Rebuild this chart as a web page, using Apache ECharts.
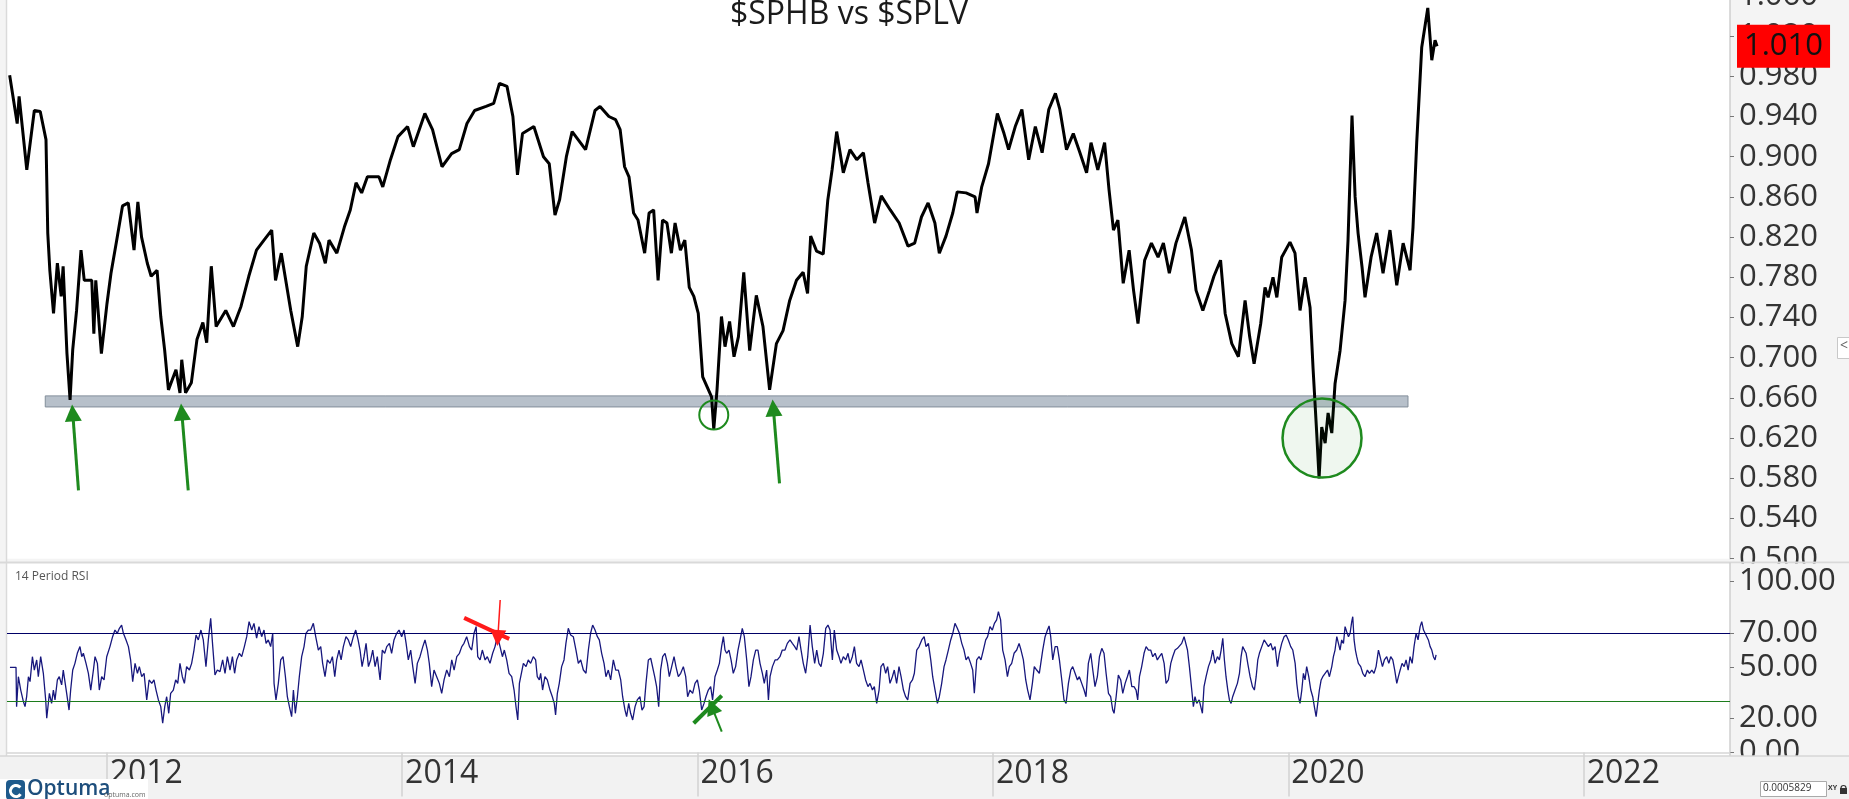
<!DOCTYPE html>
<html>
<head>
<meta charset="utf-8">
<title>$SPHB vs $SPLV</title>
<script src="https://cdn.jsdelivr.net/npm/echarts@6/dist/echarts.min.js"></script>
<style>
  html, body { margin: 0; padding: 0; background: #f4f4f4; }
  #chart { width: 1849px; height: 799px; }
</style>
</head>
<body>
<div id="chart"></div>
<script>
// $SPHB / $SPLV ratio, x = decimal year
var priceT = [2011.343,2011.394,2011.407,2011.459,2011.510,2011.550,2011.589,2011.601,2011.615,2011.640,2011.666,2011.692,2011.705,2011.731,2011.752,2011.770,2011.796,2011.826,2011.848,2011.899,2011.913,2011.926,2011.964,2012.002,2012.029,2012.068,2012.107,2012.146,2012.185,2012.211,2012.236,2012.275,2012.301,2012.341,2012.366,2012.392,2012.418,2012.469,2012.496,2012.508,2012.534,2012.573,2012.611,2012.651,2012.677,2012.708,2012.741,2012.806,2012.858,2012.909,2012.962,2013.014,2013.065,2013.117,2013.143,2013.182,2013.246,2013.293,2013.324,2013.351,2013.402,2013.441,2013.480,2013.505,2013.558,2013.609,2013.649,2013.688,2013.726,2013.765,2013.843,2013.869,2013.921,2013.972,2014.037,2014.076,2014.154,2014.206,2014.270,2014.335,2014.387,2014.439,2014.491,2014.568,2014.620,2014.659,2014.710,2014.750,2014.781,2014.815,2014.892,2014.957,2014.996,2015.035,2015.066,2015.112,2015.151,2015.242,2015.306,2015.340,2015.400,2015.445,2015.476,2015.506,2015.536,2015.567,2015.597,2015.642,2015.672,2015.703,2015.733,2015.763,2015.793,2015.823,2015.848,2015.884,2015.914,2015.944,2015.975,2016.005,2016.035,2016.065,2016.095,2016.110,2016.132,2016.162,2016.186,2016.217,2016.247,2016.277,2016.313,2016.353,2016.398,2016.443,2016.488,2016.534,2016.579,2016.624,2016.670,2016.715,2016.745,2016.766,2016.806,2016.851,2016.882,2016.911,2016.942,2016.987,2017.032,2017.078,2017.123,2017.154,2017.199,2017.244,2017.305,2017.365,2017.425,2017.470,2017.516,2017.561,2017.607,2017.637,2017.682,2017.728,2017.758,2017.818,2017.879,2017.892,2017.924,2017.970,2018.030,2018.075,2018.106,2018.151,2018.196,2018.242,2018.287,2018.333,2018.378,2018.423,2018.453,2018.498,2018.544,2018.589,2018.634,2018.664,2018.710,2018.756,2018.786,2018.816,2018.846,2018.882,2018.922,2018.952,2018.982,2019.027,2019.073,2019.118,2019.154,2019.194,2019.239,2019.299,2019.344,2019.375,2019.421,2019.466,2019.496,2019.541,2019.572,2019.617,2019.662,2019.707,2019.738,2019.768,2019.813,2019.842,2019.863,2019.896,2019.922,2019.955,2020.011,2020.045,2020.079,2020.113,2020.147,2020.167,2020.192,2020.208,2020.226,2020.249,2020.269,2020.294,2020.316,2020.350,2020.384,2020.404,2020.431,2020.452,2020.472,2020.499,2020.519,2020.560,2020.598,2020.641,2020.688,2020.734,2020.777,2020.824,2020.844,2020.869,2020.903,2020.944,2020.971,2020.993,2021.007];
var priceV = [0.981,0.933,0.960,0.887,0.946,0.945,0.917,0.824,0.787,0.744,0.794,0.761,0.791,0.704,0.658,0.708,0.747,0.807,0.777,0.777,0.724,0.777,0.704,0.754,0.784,0.817,0.851,0.854,0.807,0.855,0.820,0.794,0.781,0.787,0.741,0.708,0.668,0.688,0.665,0.698,0.665,0.675,0.718,0.735,0.715,0.791,0.731,0.747,0.731,0.751,0.781,0.807,0.817,0.827,0.777,0.804,0.747,0.711,0.741,0.791,0.824,0.814,0.794,0.817,0.804,0.830,0.847,0.874,0.864,0.880,0.880,0.870,0.897,0.920,0.930,0.910,0.943,0.927,0.890,0.903,0.907,0.933,0.946,0.950,0.953,0.973,0.970,0.940,0.882,0.923,0.930,0.900,0.893,0.842,0.857,0.900,0.925,0.907,0.946,0.950,0.940,0.937,0.927,0.890,0.880,0.844,0.837,0.804,0.844,0.847,0.777,0.837,0.834,0.804,0.834,0.807,0.817,0.770,0.761,0.744,0.681,0.671,0.661,0.629,0.668,0.741,0.711,0.736,0.701,0.721,0.785,0.707,0.762,0.731,0.668,0.714,0.727,0.757,0.777,0.785,0.764,0.821,0.806,0.803,0.857,0.887,0.925,0.884,0.907,0.897,0.904,0.874,0.834,0.861,0.847,0.834,0.811,0.814,0.840,0.854,0.834,0.804,0.821,0.844,0.865,0.864,0.860,0.844,0.870,0.893,0.943,0.923,0.907,0.930,0.947,0.897,0.930,0.904,0.947,0.963,0.947,0.907,0.923,0.904,0.884,0.914,0.887,0.914,0.867,0.827,0.837,0.774,0.807,0.767,0.734,0.797,0.814,0.800,0.814,0.784,0.814,0.840,0.807,0.767,0.747,0.767,0.781,0.797,0.744,0.714,0.701,0.757,0.721,0.694,0.734,0.770,0.760,0.780,0.760,0.800,0.815,0.804,0.747,0.780,0.750,0.690,0.625,0.580,0.631,0.615,0.645,0.625,0.674,0.707,0.757,0.817,0.941,0.860,0.824,0.790,0.760,0.800,0.824,0.784,0.827,0.772,0.814,0.787,0.830,0.914,1.009,1.048,0.996,1.016,1.010];

// 14 period RSI
var rsiT = [2011.345,2011.386,2011.390,2011.402,2011.418,2011.436,2011.447,2011.458,2011.470,2011.481,2011.497,2011.510,2011.526,2011.537,2011.553,2011.571,2011.587,2011.594,2011.612,2011.627,2011.639,2011.650,2011.666,2011.679,2011.695,2011.706,2011.729,2011.745,2011.756,2011.770,2011.785,2011.801,2011.819,2011.831,2011.842,2011.860,2011.876,2011.892,2011.910,2011.921,2011.937,2011.950,2011.966,2011.982,2012.000,2012.022,2012.040,2012.056,2012.072,2012.086,2012.101,2012.113,2012.131,2012.147,2012.162,2012.176,2012.192,2012.208,2012.221,2012.237,2012.253,2012.271,2012.287,2012.305,2012.320,2012.334,2012.350,2012.366,2012.379,2012.393,2012.406,2012.420,2012.433,2012.451,2012.467,2012.481,2012.496,2012.512,2012.526,2012.541,2012.560,2012.575,2012.591,2012.605,2012.620,2012.638,2012.654,2012.672,2012.688,2012.704,2012.718,2012.733,2012.749,2012.767,2012.785,2012.801,2012.817,2012.835,2012.851,2012.866,2012.880,2012.898,2012.914,2012.932,2012.948,2012.964,2012.982,2012.997,2013.015,2013.031,2013.049,2013.065,2013.079,2013.094,2013.110,2013.124,2013.133,2013.146,2013.162,2013.178,2013.194,2013.210,2013.223,2013.237,2013.252,2013.264,2013.277,2013.291,2013.304,2013.320,2013.336,2013.349,2013.365,2013.381,2013.399,2013.415,2013.433,2013.449,2013.462,2013.478,2013.494,2013.512,2013.528,2013.544,2013.557,2013.573,2013.587,2013.602,2013.620,2013.636,2013.652,2013.670,2013.686,2013.702,2013.715,2013.729,2013.742,2013.756,2013.772,2013.787,2013.801,2013.817,2013.832,2013.851,2013.866,2013.882,2013.896,2013.914,2013.929,2013.945,2013.963,2013.979,2013.997,2014.013,2014.027,2014.042,2014.058,2014.072,2014.088,2014.103,2014.121,2014.140,2014.155,2014.171,2014.184,2014.200,2014.216,2014.234,2014.252,2014.268,2014.284,2014.302,2014.320,2014.336,2014.352,2014.370,2014.388,2014.404,2014.419,2014.437,2014.456,2014.471,2014.487,2014.501,2014.512,2014.528,2014.543,2014.562,2014.577,2014.595,2014.613,2014.629,2014.645,2014.663,2014.679,2014.692,2014.708,2014.724,2014.742,2014.758,2014.771,2014.783,2014.794,
  2014.821,2014.839,2014.854,2014.870,2014.888,2014.904,2014.915,2014.929,2014.938,2014.951,2014.967,2014.983,2015.001,2015.017,2015.030,2015.039,2015.051,2015.064,2015.080,2015.096,2015.109,2015.125,2015.141,2015.159,2015.177,2015.193,2015.209,2015.227,2015.245,2015.261,2015.276,2015.290,2015.306,2015.322,2015.335,2015.351,2015.367,2015.380,2015.396,2015.412,2015.430,2015.446,2015.464,2015.480,2015.493,2015.509,2015.520,2015.534,2015.547,2015.561,2015.577,2015.592,2015.610,2015.624,2015.638,2015.651,2015.667,2015.683,2015.696,2015.710,2015.723,2015.737,2015.750,2015.764,2015.780,2015.796,2015.809,2015.825,2015.841,2015.854,2015.870,2015.886,2015.904,2015.920,2015.933,2015.949,2015.967,2015.983,2015.999,2016.012,2016.028,2016.044,2016.057,2016.073,2016.089,2016.102,2016.118,2016.134,2016.148,2016.163,2016.175,2016.186,2016.197,2016.213,2016.227,2016.242,2016.258,2016.274,2016.288,2016.303,2016.317,2016.333,2016.348,2016.362,2016.378,2016.394,2016.409,2016.423,2016.439,2016.452,2016.468,2016.480,2016.491,2016.507,2016.525,2016.540,2016.558,2016.574,2016.592,2016.608,2016.626,2016.642,2016.658,2016.671,2016.687,2016.701,2016.716,2016.732,2016.746,2016.762,2016.777,2016.793,2016.807,2016.822,2016.836,2016.852,2016.868,2016.883,2016.897,2016.913,2016.926,2016.942,2016.958,2016.971,2016.987,2017.003,2017.019,2017.032,2017.048,2017.062,2017.077,2017.093,2017.107,2017.123,2017.138,2017.154,2017.168,2017.184,2017.197,2017.213,2017.229,2017.242,2017.258,2017.274,2017.287,2017.303,2017.319,2017.332,2017.348,2017.364,2017.378,2017.394,2017.409,2017.423,2017.439,2017.455,2017.468,2017.484,2017.500,2017.518,2017.534,2017.547,2017.563,2017.579,2017.592,2017.608,2017.624,2017.637,2017.653,2017.669,2017.682,2017.698,2017.714,2017.728,2017.743,2017.759,2017.773,2017.789,2017.804,2017.818,2017.833,2017.849,2017.863,2017.874,2017.890,2017.906,2017.919,2017.935,2017.951,2017.964,2017.980,2017.996,2018.010,2018.025,2018.037,2018.052,2018.066,2018.082,2018.098,2018.111,2018.127,2018.143,2018.161,2018.177,2018.190,2018.206,2018.222,2018.235,2018.251,2018.267,2018.280,2018.296,2018.314,
  2018.337,2018.353,2018.369,2018.380,2018.391,2018.405,2018.421,2018.436,2018.450,2018.466,2018.481,2018.495,2018.511,2018.527,2018.540,2018.556,2018.572,2018.585,2018.601,2018.617,2018.630,2018.646,2018.662,2018.676,2018.691,2018.707,2018.721,2018.737,2018.752,2018.766,2018.782,2018.797,2018.811,2018.820,2018.834,2018.849,2018.865,2018.879,2018.895,2018.910,2018.924,2018.940,2018.955,2018.969,2018.980,2018.992,2019.007,2019.023,2019.037,2019.053,2019.068,2019.082,2019.098,2019.113,2019.127,2019.143,2019.159,2019.172,2019.188,2019.204,2019.217,2019.233,2019.249,2019.262,2019.278,2019.294,2019.305,2019.317,2019.330,2019.346,2019.357,2019.368,2019.380,2019.396,2019.407,2019.418,2019.429,2019.443,2019.459,2019.475,2019.488,2019.504,2019.520,2019.533,2019.545,2019.556,2019.567,2019.578,2019.590,2019.601,2019.612,2019.623,2019.639,2019.655,2019.669,2019.680,2019.691,2019.703,2019.714,2019.725,2019.741,2019.757,2019.770,2019.782,2019.793,2019.804,2019.820,2019.836,2019.849,2019.865,2019.881,2019.894,2019.910,2019.926,2019.939,2019.955,2019.971,2019.985,2020.000,2020.016,2020.030,2020.046,2020.057,2020.068,2020.079,2020.091,2020.102,2020.113,2020.124,2020.138,2020.152,2020.165,2020.176,2020.188,2020.199,2020.210,2020.222,2020.233,2020.249,2020.265,2020.278,2020.294,2020.305,2020.316,2020.328,2020.339,2020.350,2020.361,2020.373,2020.384,2020.395,2020.407,2020.418,2020.429,2020.436,2020.445,2020.454,2020.463,2020.474,2020.490,2020.504,2020.519,2020.535,2020.549,2020.565,2020.580,2020.594,2020.610,2020.621,2020.637,2020.650,2020.666,2020.680,2020.693,2020.707,2020.720,2020.734,2020.745,2020.757,2020.770,2020.784,2020.797,2020.811,2020.824,2020.838,2020.851,2020.865,2020.878,2020.892,2020.903,2020.915,2020.926,2020.937,2020.948,2020.960,2020.971,2020.982,2020.993,2021.000];
var rsiV = [49.8,49.8,26.8,44.3,36.5,29.7,26.8,32.6,44.3,41.4,56.0,48.2,54.1,44.3,56.0,46.3,30.7,20.0,34.6,28.7,36.5,30.7,42.4,44.3,39.5,48.2,34.6,24.8,36.5,48.2,52.1,58.0,61.9,56.0,58.0,52.1,46.3,36.5,48.2,56.0,52.1,36.5,44.3,42.4,56.0,61.9,67.7,71.6,69.7,72.6,74.5,69.7,65.8,61.9,54.1,41.4,52.1,46.3,50.2,44.3,46.3,30.7,42.4,40.4,42.4,36.5,30.7,26.8,17.1,26.8,32.6,22.9,34.6,36.5,42.4,40.4,52.1,44.3,40.4,50.2,48.2,52.1,59.9,68.7,65.8,71.6,65.8,50.2,65.8,78.4,61.9,45.3,48.2,47.3,54.1,46.3,56.0,48.2,56.0,46.3,54.1,58.0,56.0,61.9,67.7,76.5,71.6,75.5,66.8,73.6,67.7,71.6,63.8,65.8,61.9,69.7,40.4,30.7,40.4,54.1,56.0,44.3,32.6,26.8,20.9,36.5,22.9,32.6,44.3,56.0,61.9,69.7,71.6,71.6,75.5,67.7,59.9,61.9,52.1,44.3,54.1,52.1,56.0,44.3,54.1,59.9,54.1,61.9,67.7,65.8,61.9,67.7,71.6,65.8,59.9,50.2,56.0,63.8,50.2,54.1,59.9,50.2,56.0,42.4,59.9,58.0,61.9,63.8,58.0,65.8,69.7,71.6,67.7,71.6,63.8,54.1,59.9,50.2,40.4,52.1,56.0,61.9,65.8,59.9,52.1,38.5,48.2,44.3,40.4,34.6,42.4,48.2,44.3,54.1,48.2,56.0,58.0,61.9,63.8,67.7,61.9,59.9,69.7,73.6,56.0,54.1,59.9,54.1,56.0,52.1,58.0,61.9,68.1,61.9,56.0,59.9,54.1,46.3,44.3,36.5,26.8,19.0,40.4,
  52.1,50.2,54.1,52.1,56.0,54.1,44.3,42.4,46.3,36.5,44.3,42.4,36.5,32.6,28.7,21.9,34.6,40.4,50.2,54.1,63.8,72.6,68.7,67.7,59.9,52.1,54.1,48.2,46.3,59.9,69.7,74.5,71.6,67.7,65.8,58.0,52.1,44.3,48.2,42.4,54.1,48.2,48.2,42.4,32.6,24.8,20.9,28.7,22.9,19.0,26.8,30.7,32.6,24.8,26.8,40.4,54.1,55.1,56.0,44.3,38.5,26.8,48.2,56.0,58.0,52.1,44.3,50.2,56.0,50.2,44.3,46.3,50.2,44.3,32.6,36.5,34.6,40.4,42.4,36.5,24.8,28.7,32.6,36.5,38.5,30.7,44.3,48.2,52.1,61.9,67.7,59.9,58.0,59.9,54.1,46.3,50.2,59.9,65.8,72.6,67.7,54.1,38.5,44.3,54.1,59.9,59.9,52.1,46.3,40.4,48.2,30.7,44.3,50.2,54.1,54.1,56.0,59.9,59.9,63.8,65.8,63.8,61.9,59.9,67.7,59.9,52.1,46.3,56.0,74.5,61.9,52.1,59.9,52.1,50.2,58.0,72.6,74.5,71.6,54.1,71.6,59.9,56.0,52.1,56.0,54.1,58.0,52.1,56.0,61.9,52.1,50.2,54.1,48.2,42.4,38.5,40.4,36.5,38.5,28.7,36.5,50.2,52.1,46.3,50.2,40.4,44.3,48.2,40.4,50.2,44.3,36.5,32.6,30.7,40.4,42.4,46.3,59.9,61.9,65.8,67.7,61.9,63.8,54.1,44.3,36.5,28.7,32.6,40.4,50.2,54.1,59.9,65.8,69.7,75.5,72.6,69.7,63.8,59.9,54.1,56.0,52.1,48.2,34.6,54.1,56.0,54.1,59.9,65.8,67.7,73.6,71.6,75.5,77.5,82.3,77.5,59.9,54.1,44.3,50.2,52.1,58.0,59.9,63.8,59.9,54.1,42.4,36.5,30.7,40.4,50.2,48.2,46.3,
  59.9,67.7,71.6,74.0,67.7,54.1,61.9,61.9,54.1,42.4,30.7,28.7,40.4,48.2,50.2,46.3,42.4,44.3,40.4,36.5,32.6,52.1,58.0,48.2,38.5,44.3,56.0,60.9,58.0,46.3,34.6,32.6,24.8,22.9,32.6,45.3,42.4,34.6,40.4,44.3,48.2,38.5,38.5,36.5,30.7,44.3,50.2,58.0,61.9,59.9,59.9,56.0,58.0,54.1,56.0,58.0,52.1,40.4,42.4,52.1,56.0,59.9,60.9,61.9,63.8,67.7,66.8,59.9,50.2,36.5,26.8,32.6,28.7,30.7,26.8,22.9,38.5,44.3,50.2,54.1,59.9,52.1,56.0,54.1,59.9,66.8,54.1,44.3,36.5,30.7,28.7,32.6,36.5,40.4,46.3,56.0,61.9,62.9,58.0,52.1,44.3,38.5,36.5,44.3,54.1,58.0,61.9,65.8,66.8,61.9,63.8,59.9,61.9,50.2,58.0,63.8,67.7,68.7,65.8,61.9,59.9,52.1,40.4,32.6,28.7,36.5,46.3,42.4,50.2,44.3,36.5,32.6,26.8,20.9,28.7,36.5,42.4,44.3,46.3,48.2,44.3,50.2,56.0,59.9,67.7,63.8,59.9,65.8,63.8,73.6,70.6,67.7,69.7,76.5,79.4,65.8,59.9,56.0,52.1,50.2,46.3,44.3,48.2,46.3,48.2,46.3,50.2,59.9,56.0,50.2,54.1,56.0,52.1,56.0,54.1,48.2,40.4,44.3,48.2,52.1,50.2,54.1,48.2,56.0,52.1,61.9,69.7,65.8,73.6,76.5,71.6,69.7,70.6,65.8,61.9,59.9,56.0,54.1,57.0];

var yearTicks = [2012, 2014, 2016, 2018, 2020, 2022];
var rsiTicks = [0, 20, 50, 70, 100];
var lastValue = 1.010;
var rsiLevels = [70, 30];

// hand drawn notes, in data units [x0, y0, x1, y1]
var supportZone = [2011.584, 0.662, 2020.810, 0.651];
var priceArrows = [[2011.809, 0.568, 2011.770, 0.645], [2012.552, 0.568, 2012.508, 0.646], [2016.555, 0.575, 2016.513, 0.650]];
var lowCircles = [[2016.110, 0.643], [2020.228, 0.620]];
var rsiRedLine = [2014.420, 78.7, 2014.725, 66.4];
var rsiRedArrow = [2014.664, 89.2, 2014.648, 67.0];
var rsiGreenLine = [2015.974, 17.1, 2016.164, 33.2];
var rsiGreenArrow = [2016.164, 12.2, 2016.096, 26.8];

var X_MIN = 2011.325, X_MAX = 2022.990;
var FONT = '"Open Sans", "Noto Sans", sans-serif';
var GREEN = '#1e8a1e', RED = '#ff1a1a';

function zip(t, v) {
    return t.map(function (x, i) { return [x, v[i]]; });
}

function segment(a, color, width, head) {
    var style = { color: color, width: width, type: 'solid', opacity: 1 };
    return [
        { coord: [a[0], a[1]], symbol: 'none', lineStyle: style },
        { coord: [a[2], a[3]], symbol: head ? 'triangle' : 'none', symbolSize: head || 0, lineStyle: style }
    ];
}

var chart = echarts.init(document.getElementById('chart'));

var option = {
    backgroundColor: '#f4f4f4',
    animation: false,
    title: {
        text: '$SPHB vs $SPLV',
        left: 725, top: -6,
        textStyle: { fontSize: 32, fontWeight: 'normal', color: '#1a1a1a', fontFamily: FONT }
    },
    grid: [
        { left: 7, right: 119, top: -4.1, height: 562.8, show: true, backgroundColor: '#fff', borderWidth: 0, outerBoundsMode: 'none', containLabel: false },
        { left: 7, right: 119, top: 563, height: 192.7, show: true, backgroundColor: '#fff', borderWidth: 0, outerBoundsMode: 'none', containLabel: false }
    ],
    xAxis: [
        { type: 'value', gridIndex: 0, min: X_MIN, max: X_MAX, show: false },
        {
            type: 'value', gridIndex: 1, min: X_MIN, max: X_MAX, z: 6,
            axisLine: { show: true, lineStyle: { color: '#d6d6d6', width: 1.5 } },
            axisTick: { show: true, customValues: yearTicks, length: 44, lineStyle: { color: '#d2d2d2', width: 1.5 } },
            axisLabel: {
                customValues: yearTicks, align: 'left', margin: 2, padding: [0, 0, 0, 3],
                fontSize: 32, color: '#333', fontFamily: FONT,
                formatter: function (v) { return String(v); }
            },
            splitLine: { show: false }
        }
    ],
    yAxis: [
        {
            type: 'value', gridIndex: 0, position: 'right', min: 0.5, max: 1.06, interval: 0.04, z: 1,
            axisLine: { show: true, lineStyle: { color: '#cfcfcf', width: 1.5 } },
            axisTick: { show: true, length: 4, lineStyle: { color: '#777' } },
            axisLabel: { margin: 9, fontSize: 31, color: '#333', fontFamily: FONT, formatter: function (v) { return v.toFixed(3); } },
            splitLine: { show: false }
        },
        {
            type: 'value', gridIndex: 1, position: 'right', min: -1.9, max: 110.8, z: 4,
            axisLine: { show: true, lineStyle: { color: '#cfcfcf', width: 1.5 } },
            axisTick: { show: true, customValues: rsiTicks, length: 4, lineStyle: { color: '#777' } },
            axisLabel: { customValues: rsiTicks, margin: 9, fontSize: 31, color: '#333', fontFamily: FONT, formatter: function (v) { return v.toFixed(2); } },
            splitLine: { show: false }
        }
    ],
    series: [
        {
            name: 'ratio', type: 'line', xAxisIndex: 0, yAxisIndex: 0,
            data: zip(priceT, priceV),
            showSymbol: false, silent: true, z: 3,
            lineStyle: { color: '#000', width: 3 },
            markArea: {
                silent: true,
                itemStyle: { color: '#b7c0ca', borderColor: '#838e9a', borderWidth: 1 },
                data: [[{ coord: [supportZone[0], supportZone[1]] }, { coord: [supportZone[2], supportZone[3]] }]]
            },
            markPoint: {
                silent: true, symbol: 'circle', label: { show: false },
                data: [
                    { coord: lowCircles[0], symbolSize: 29, itemStyle: { color: 'rgba(0,0,0,0)', borderColor: GREEN, borderWidth: 2 } },
                    { coord: lowCircles[1], symbolSize: 79, itemStyle: { color: 'rgba(30,138,30,0.07)', borderColor: GREEN, borderWidth: 2.5 } }
                ]
            },
            markLine: {
                silent: true, symbol: ['none', 'none'], label: { show: false },
                data: priceArrows.map(function (a) { return segment(a, GREEN, 3, [17, 17]); }).concat([
                    {
                        yAxis: lastValue, lineStyle: { color: 'rgba(0,0,0,0)', width: 0 },
                        label: {
                            show: true, position: 'end', distance: 7, formatter: lastValue.toFixed(3),
                            backgroundColor: '#ff0000', color: '#111', fontSize: 31, fontFamily: FONT,
                            lineHeight: 33, padding: [5, 7, 5, 7], opacity: 1
                        }
                    }
                ])
            }
        },
        {
            name: '14 Period RSI', type: 'line', xAxisIndex: 1, yAxisIndex: 1,
            data: zip(rsiT, rsiV),
            showSymbol: false, silent: true,
            lineStyle: { color: '#17177d', width: 1.3 },
            markLine: {
                silent: true, symbol: ['none', 'none'], label: { show: false },
                data: [
                    { yAxis: rsiLevels[0], lineStyle: { color: '#000066', width: 1.2, type: 'solid' } },
                    { yAxis: rsiLevels[1], lineStyle: { color: '#1c7c1c', width: 1.2, type: 'solid' } },
                    segment(rsiRedLine, RED, 4),
                    segment(rsiRedArrow, RED, 1.5, [16, 16]),
                    segment(rsiGreenLine, GREEN, 4),
                    segment(rsiGreenArrow, GREEN, 2, [16, 16])
                ]
            }
        }
    ],
    graphic: [
        { type: 'line', z: 3, silent: true, shape: { x1: 6.5, y1: 0, x2: 6.5, y2: 756 }, style: { stroke: '#dadada', lineWidth: 1.5 } },
        { type: 'line', z: 3, silent: true, shape: { x1: 0, y1: 562.5, x2: 1849, y2: 562.5 }, style: { stroke: '#d9d9d9', lineWidth: 2 } },
        // right panel behind the RSI scale, hides the lower half of 0.500
        { type: 'rect', z: 3, silent: true, shape: { x: 1731, y: 563.5, width: 118, height: 192.5 }, style: { fill: '#f4f4f4' } },
        // date strip
        { type: 'rect', z: 5, silent: true, shape: { x: -1, y: 756, width: 1851, height: 44 }, style: { fill: '#f2f2f2', stroke: '#d6d6d6', lineWidth: 1.5 } },
        { type: 'text', z: 5, silent: true, x: 15, y: 571, style: { text: '14 Period RSI', fontSize: 12, fill: '#555', fontFamily: FONT } },
        // side tab
        { type: 'rect', z: 5, silent: true, shape: { x: 1837.5, y: 337.5, width: 13, height: 21 }, style: { fill: '#fff', stroke: '#c8c8c8', lineWidth: 1 } },
        { type: 'text', z: 6, silent: true, x: 1840, y: 339, style: { text: '<', fontSize: 14, fill: '#666', fontFamily: FONT } },
        // logo
        { type: 'rect', z: 7, silent: true, shape: { x: 0, y: 779, width: 148, height: 21 }, style: { fill: '#fff' } },
        { type: 'rect', z: 8, silent: true, shape: { x: 6, y: 780, width: 19, height: 20, r: 4 }, style: { fill: '#1e5a8c' } },
        { type: 'arc', z: 9, silent: true, shape: { cx: 16, cy: 791, r: 5.5, startAngle: 0.6, endAngle: 5.6 }, style: { stroke: '#fff', lineWidth: 3, fill: null } },
        { type: 'text', z: 8, silent: true, x: 27, y: 779, style: { text: 'Optuma', fontSize: 21, fontWeight: 600, fill: '#1d4e7c', fontFamily: FONT } },
        { type: 'text', z: 8, silent: true, x: 104, y: 791, style: { text: 'optuma.com', fontSize: 7, fill: '#666', fontFamily: FONT } },
        // scale readout
        { type: 'rect', z: 7, silent: true, shape: { x: 1760.5, y: 781.5, width: 66, height: 15 }, style: { fill: '#fff', stroke: '#aaa', lineWidth: 1 } },
        { type: 'text', z: 8, silent: true, x: 1763, y: 783, style: { text: '0.0005829', fontSize: 10, fill: '#333', fontFamily: FONT } },
        { type: 'text', z: 8, silent: true, x: 1828, y: 784, style: { text: 'XY', fontSize: 7, fontWeight: 'bold', fill: '#333', fontFamily: FONT } },
        { type: 'rect', z: 8, silent: true, shape: { x: 1840, y: 788, width: 7, height: 6 }, style: { fill: '#333' } },
        { type: 'arc', z: 8, silent: true, shape: { cx: 1843.5, cy: 788, r: 2.5, startAngle: Math.PI, endAngle: 2 * Math.PI }, style: { stroke: '#333', lineWidth: 1.2, fill: null } }
    ]
};

chart.setOption(option);
</script>
</body>
</html>
